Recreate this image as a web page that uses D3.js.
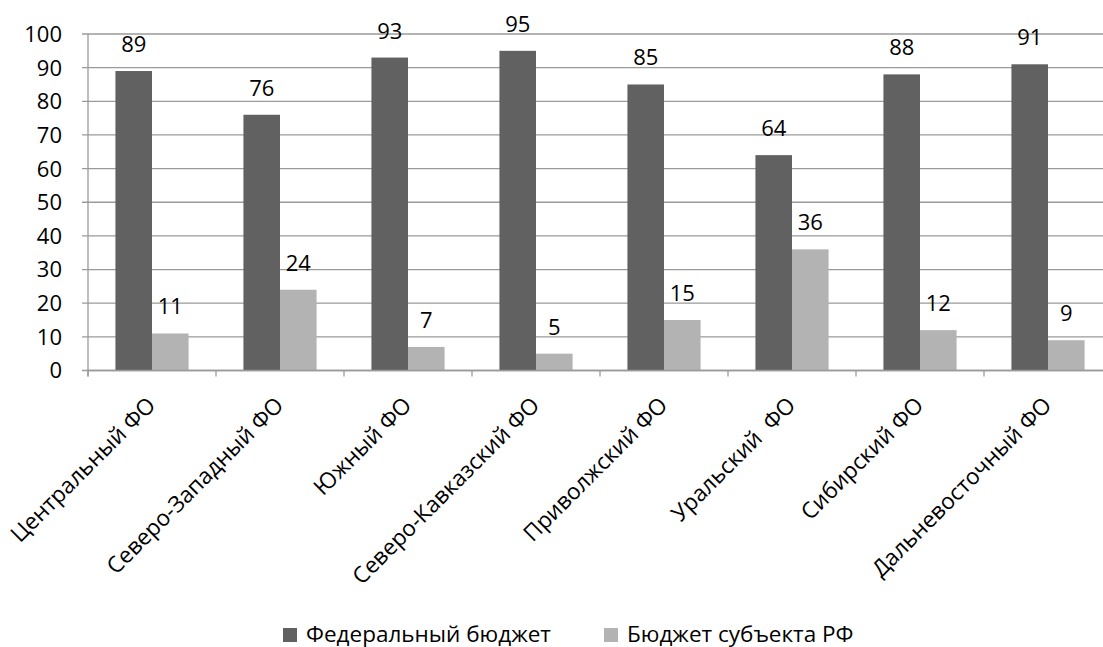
<!DOCTYPE html>
<html><head><meta charset="utf-8">
<script src="https://cdn.jsdelivr.net/npm/d3@7/dist/d3.min.js"></script>
<style>body{margin:0;background:#fff}svg{display:block}text{font-family:"Open Sans","Noto Sans",sans-serif;fill:#000;white-space:pre}</style>
</head><body><svg id="c" width="1103" height="647"></svg>
<script>
const categories = ["Центральный ФО","Северо-Западный ФО","Южный ФО","Северо-Кавказский ФО","Приволжский ФО","Уральский  ФО","Сибирский ФО","Дальневосточный ФО"];
const seriesNames = ["Федеральный бюджет","Бюджет субъекта РФ"];
const federal = [89,76,93,95,85,64,88,91];
const regional = [11,24,7,5,15,36,12,9];
const yTicks = [0,10,20,30,40,50,60,70,80,90,100];
const colors = ["#616161","#b3b3b3"];

const svg = d3.select("#c");
const pLeft = 88, catW = 128, pTop = 34, pBottom = 370.5;
const x = d3.scaleBand().domain(categories).range([pLeft, pLeft + catW*categories.length]);
const x1 = d3.scaleBand().domain([0,1]).range([0, catW]).paddingOuter(0.75).paddingInner(0);
const y = d3.scaleLinear().domain([0,100]).range([pBottom, pTop]);

svg.append("g").selectAll("line").data(yTicks).join("line")
  .attr("x1", pLeft-6).attr("x2", 1103).attr("y1", d=>y(d)).attr("y2", d=>y(d))
  .attr("stroke", "#9a9a9a").attr("stroke-width", 1.3);
svg.append("line").attr("x1", pLeft).attr("x2", pLeft).attr("y1", pTop).attr("y2", pBottom+6).attr("stroke","#9a9a9a").attr("stroke-width",1.3);
svg.append("g").selectAll("line").data(d3.range(categories.length+1)).join("line")
  .attr("x1", d=>pLeft+d*catW).attr("x2", d=>pLeft+d*catW).attr("y1", pBottom).attr("y2", pBottom+6)
  .attr("stroke","#9a9a9a").attr("stroke-width",1.3);
svg.append("g").selectAll("text").data(yTicks).join("text")
  .attr("x", 62).attr("y", d=>y(d)).attr("dy","0.36em").attr("text-anchor","end")
  .attr("font-size", 22).text(d=>d);

const data = [federal, regional];
data.forEach((vals, s) => {
  const g = svg.append("g");
  g.selectAll("rect").data(vals).join("rect")
    .attr("x", (d,i)=>x(categories[i]) + x1(s)).attr("width", x1.bandwidth())
    .attr("y", d=>y(d)).attr("height", d=>pBottom - y(d))
    .attr("fill", colors[s]);
  g.selectAll("text").data(vals).join("text")
    .attr("x", (d,i)=>x(categories[i]) + x1(s) + x1.bandwidth()/2)
    .attr("y", d=>y(d) - 19).attr("text-anchor","middle").attr("font-size",22).text(d=>d);
});
svg.append("line").attr("x1", pLeft).attr("x2", 1103).attr("y1", pBottom).attr("y2", pBottom).attr("stroke","#9a9a9a").attr("stroke-width",1.3);

svg.append("g").selectAll("text").data(categories).join("text")
  .attr("transform", d=>`translate(${x(d)+x.bandwidth()/2+5},${pBottom+36}) rotate(-45)`)
  .attr("text-anchor","end").attr("font-size",22.5).text(d=>d);

const leg = svg.append("g");
const legX = [283, 604];
seriesNames.forEach((n,i)=>{
  leg.append("rect").attr("x", legX[i]).attr("y", 628).attr("width", 14).attr("height", 14).attr("fill", colors[i]);
  leg.append("text").attr("x", legX[i]+23).attr("y", 641.5).attr("font-size", 22.5).text(n);
});
</script></body></html>
